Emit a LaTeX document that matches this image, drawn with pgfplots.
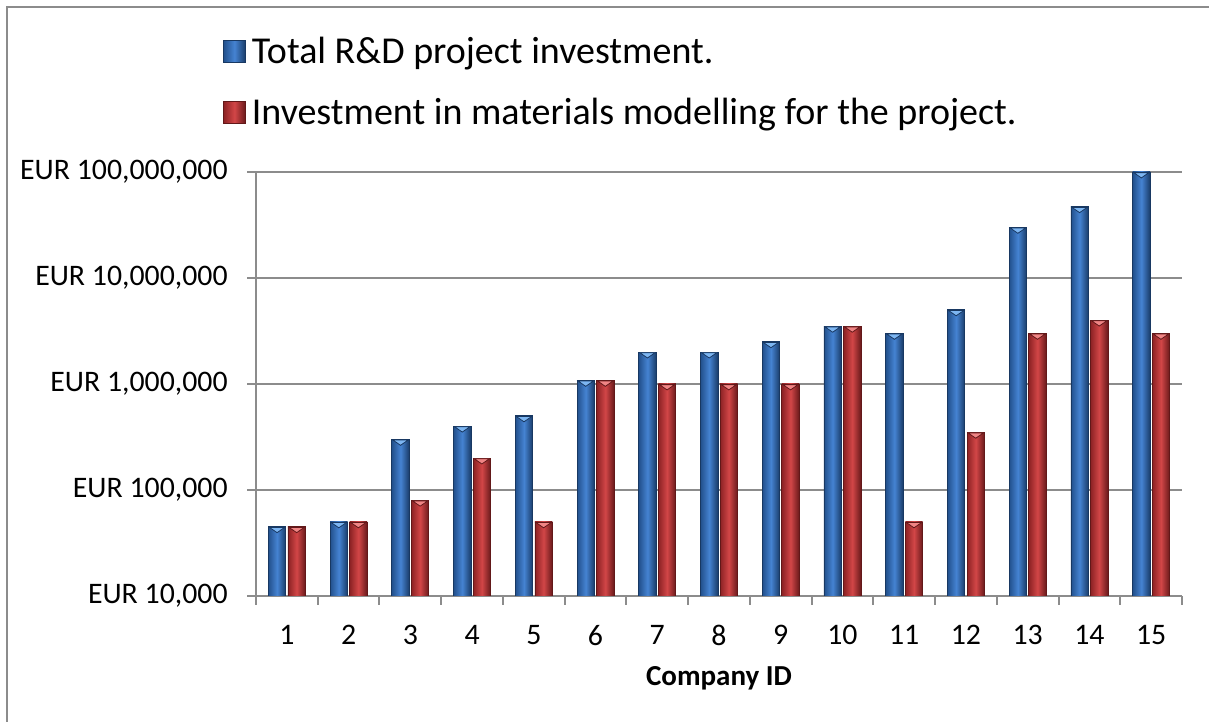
\documentclass[border=0pt]{standalone}
\usepackage{pgfplots}
\pgfplotsset{compat=1.18}
\usepackage{fontspec}
\setmainfont{Carlito}
\definecolor{bluemid}{HTML}{4583D2}
\definecolor{bluedark}{HTML}{22508C}
\definecolor{bluelight}{HTML}{7DB6F2}
\definecolor{redmid}{HTML}{D24647}
\definecolor{reddark}{HTML}{8C2224}
\definecolor{redlight}{HTML}{F08585}
\definecolor{axgray}{HTML}{8C8C8C}
\pgfplotsset{
  bluebar/.style={ybar, bar width=8.7pt, bar shift=-4.9pt, draw=bluedark!70!black, line width=0.4pt,
    left color=bluedark, right color=bluedark!75!black, middle color=bluemid},
  redbar/.style={ybar, bar width=8.7pt, bar shift=4.9pt, draw=reddark!70!black, line width=0.4pt,
    left color=reddark, right color=reddark!75!black, middle color=redmid},
  bevel/.style 2 args={mark=triangle*, mark size=4.4pt,
    mark options={xshift=#2, yshift=-1.2pt, rotate=180, yscale=0.4, draw=none, fill=#1}},
}
\begin{document}
\begin{tikzpicture}
\useasboundingbox (0,0) rectangle (604.5pt,361pt);
\draw[axgray, line width=1pt] (3.5pt,0pt) -- (3.5pt,357.5pt) -- (604.5pt,357.5pt);
\begin{axis}[
  at={(128pt,63pt)}, anchor=south west,
  scale only axis, width=463pt, height=212pt,
  ymode=log, ymin=1e4, ymax=1e8, log origin y=infty,
  xmin=0.5, xmax=15.5,
  axis lines*=left,
  axis line style={axgray, line width=1pt},
  xtick={0.5,1.5,...,15.5},
  x tick label as interval,
  xticklabels={1,2,3,4,5,6,7,8,9,10,11,12,13,14,15},
  ytick={1e4,1e5,1e6,1e7,1e8},
  yticklabels={{EUR 10,000},{EUR 100,000},{EUR 1,000,000},{EUR 10,000,000},{EUR 100,000,000}},
  yminorticks=false,
  ymajorgrids, grid style={axgray, line width=1pt},
  tick align=outside, major tick length=4.5pt,
  tick style={axgray, line width=1pt},
  ticklabel style={font=\fontsize{14.9}{17}\selectfont, text=black},
  yticklabel style={inner sep=0pt, xshift=-9.5pt},
  xticklabel style={inner sep=0pt, yshift=-10pt},
  xlabel={Company ID},
  xlabel style={font=\bfseries\fontsize{14.5}{17}\selectfont, at={(axis description cs:0.5,0)}, anchor=base, yshift=-45pt},
  legend style={at={(axis description cs:-0.0356,1.319)}, anchor=north west, draw=none, fill=none,
    inner sep=0pt, outer sep=0pt,
    font=\fontsize{19}{23}\selectfont, row sep=16pt, nodes={inner sep=0pt},
    /tikz/every odd column/.append style={column sep=3pt}},
  legend cell align=left,
  legend image code/.code={\draw[#1] (0pt,-5.5pt) rectangle (11pt,5.5pt);},
]
\addlegendimage{bluebar}
\addlegendentry{Total R\&D project investment.}
\addlegendimage{redbar}
\addlegendentry{Investment in materials modelling for the project.}
\pgfplotsforeachungrouped \x/\v in {1/45000, 2/50000, 3/300000, 4/400000, 5/500000, 6/1080000, 7/2000000, 8/2000000, 9/2500000, 10/3500000, 11/3000000, 12/5000000, 13/30000000, 14/47000000, 15/100000000}{
  \edef\temp{\noexpand\addplot[bluebar, bevel={bluelight}{-4.9pt}, forget plot] coordinates {(\x,\v)};}
  \temp
}
\pgfplotsforeachungrouped \x/\v in {1/45000, 2/50000, 3/80000, 4/200000, 5/50000, 6/1080000, 7/1000000, 8/1000000, 9/1000000, 10/3500000, 11/50000, 12/350000, 13/3000000, 14/4000000, 15/3000000}{
  \edef\temp{\noexpand\addplot[redbar, bevel={redlight}{4.9pt}, forget plot] coordinates {(\x,\v)};}
  \temp
}
\end{axis}
\end{tikzpicture}
\end{document}
